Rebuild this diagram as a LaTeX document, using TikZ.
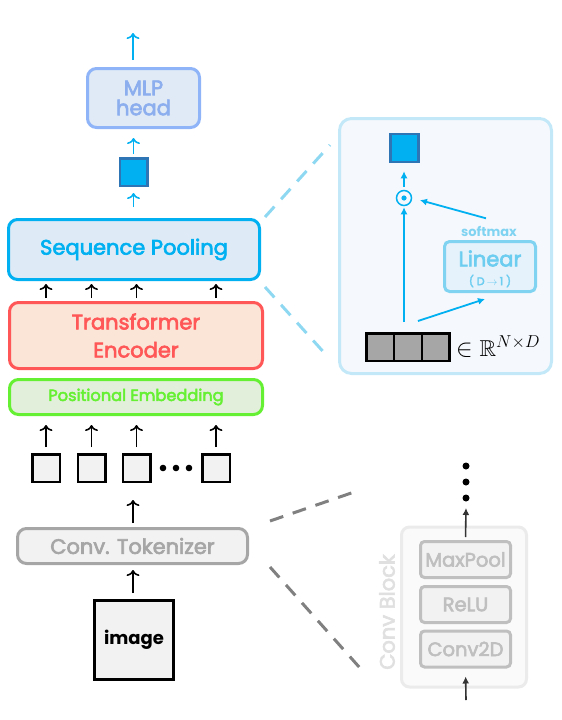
\documentclass[tikz,border=0pt]{standalone}
\usepackage{fontspec}
\usepackage{amssymb}
\setmainfont{Poppins}
\newfontfamily\semibold{Poppins}[FakeBold=3]
\usetikzlibrary{arrows.meta}
\definecolor{seqblue}{HTML}{00B0F0}
\definecolor{darkblue}{HTML}{2E75B6}
\definecolor{mlpline}{HTML}{8FB4F7}
\definecolor{mlpfill}{HTML}{E0EAF6}
\definecolor{mlptext}{HTML}{8CAEEE}
\definecolor{poolfill}{HTML}{DEEBF7}
\definecolor{encred}{HTML}{FF5757}
\definecolor{encfill}{HTML}{FBE5D6}
\definecolor{posgreen}{HTML}{66F033}
\definecolor{posfill}{HTML}{E2EFDA}
\definecolor{tokgray}{HTML}{A6A6A6}
\definecolor{lightfill}{HTML}{F2F2F2}
\definecolor{panelline}{HTML}{C3E9F8}
\definecolor{panelfill}{HTML}{F5F8FD}
\definecolor{linline}{HTML}{80D4F2}
\definecolor{linfill}{HTML}{E5F1FB}
\definecolor{lintext}{HTML}{6CCDF0}
\definecolor{zoomcyan}{HTML}{8FD8F2}
\definecolor{zoomgray}{HTML}{808080}
\definecolor{blockline}{HTML}{EBEBEB}
\definecolor{blockfill}{HTML}{FAFAFA}
\definecolor{layerline}{HTML}{BFBFBF}

\begin{document}
\begin{tikzpicture}[x=1pt,y=-1pt,
  box/.style={draw, rounded corners=9pt, line width=3pt, align=center, inner sep=0pt},
  token/.style={draw=black, fill=lightfill, line width=2.5pt, minimum size=27.5pt, inner sep=0pt},
  cell/.style={draw=black, fill=tokgray, line width=2.5pt, minimum width=27.8pt, minimum height=27.5pt, inner sep=0pt},
  layer/.style={box, rounded corners=4pt, draw=layerline, fill=lightfill, text=layerline, minimum width=90pt, minimum height=36pt, font=\semibold\fontsize{19.5}{20}\selectfont},
  arr/.style={-{To[length=6pt,width=13pt]}, line width=1.6pt},
  tip/.style={-{Latex[length=7pt,width=7pt]}, line width=1.8pt, seqblue},
  zoomline/.style={line width=3pt, dash pattern=on 14pt off 10pt}]
\useasboundingbox (0,0) rectangle (562,720);
% Main stack
\node[box, draw=mlpline, fill=mlpfill, text=mlptext, minimum width=112pt, minimum height=59pt, font=\semibold\fontsize{21}{20}\selectfont] (mlp) at (143.5,98) {MLP\\head};
\node[draw=darkblue, fill=seqblue, line width=2.5pt, minimum size=27.5pt, inner sep=0pt] (feat) at (133.5,172) {};
\node[box, draw=seqblue, fill=poolfill, text=seqblue, minimum width=251pt, minimum height=60pt, font=\semibold\fontsize{21}{20}\selectfont] (pool) at (134,249.5) {Sequence Pooling};
\node[box, draw=encred, fill=encfill, text=encred, minimum width=253pt, minimum height=66pt, font=\semibold\fontsize{21}{28}\selectfont] (enc) at (136,335.5) {Transformer\\Encoder};
\node[box, draw=posgreen, fill=posfill, text=posgreen, minimum width=253pt, minimum height=35pt, font=\semibold\fontsize{16.2}{16}\selectfont] (pos) at (136,397) {Positional Embedding};
% Tokens
\node[token] (tok1) at (46,468) {};
\node[token] (tok2) at (91.5,468) {};
\node[token] (tok3) at (136.5,468) {};
\node[token] (tok4) at (216,468) {};
\foreach \x in {163,176,189}
  \fill (\x,468) circle (3.3pt);
\node[box, draw=tokgray, fill=lightfill, text=tokgray, minimum width=230pt, minimum height=35pt, font=\semibold\fontsize{21}{20}\selectfont] (tokenizer) at (132.5,546) {Conv. Tokenizer};
\node[draw=black, fill=lightfill, line width=3pt, minimum size=79pt, inner sep=0pt, font=\bfseries\fontsize{18}{20}\selectfont] (img) at (134,640) {image};
% Arrows
\coordinate (top) at (133,33);
\draw[arr, seqblue, shorten <=7pt] (top |- mlp.north) -- (top);
\draw[arr, seqblue, shorten <=3pt, shorten >=9pt] (feat.north) -- (feat.north |- mlp.south);
\draw[arr, seqblue, shorten <=11pt, shorten >=6pt] (feat.south |- pool.north) -- (feat.south);
\foreach \i in {1,2,3,4} {
  \draw[arr, shorten <=3pt, shorten >=3pt] (tok\i |- enc.north) -- (tok\i |- pool.south);
  \draw[arr, shorten <=6pt, shorten >=9pt] (tok\i.north) -- (tok\i.north |- pos.south);
}
\draw[arr, shorten <=4pt, shorten >=17pt] (top |- tokenizer.north) -- (top |- tok3.south);
\draw[arr, shorten <=6pt, shorten >=5pt] (top |- img.north) -- (top |- tokenizer.south);
% Sequence pooling detail
\node[box, rounded corners=12pt, draw=panelline, fill=panelfill, minimum width=212pt, minimum height=255pt] (panel) at (445.5,246) {};
\node[draw=darkblue, fill=seqblue, line width=2.5pt, minimum size=28pt, inner sep=0pt] (out) at (404.5,148) {};
\node[circle, draw=seqblue, line width=1.5pt, minimum size=15pt, inner sep=0pt] (dot) at (404,198) {};
\fill[seqblue] (dot) circle (2.6pt);
\node[box, rounded corners=5pt, draw=linline, fill=linfill, minimum width=91pt, minimum height=50pt] (lin) at (490,266.5) {};
\node[text=lintext, font=\semibold\fontsize{21}{20}\selectfont, inner sep=0pt] (lintitle) at (490,258.5) {Linear};
\node[text=lintext, font=\semibold\fontsize{11}{11}\selectfont, inner sep=0pt] (linsub) at (490,281) {(\hspace{3pt}D\hspace{2pt}$\rightarrow$\hspace{2pt}1\hspace{3pt})};
\node[text=linline, font=\bfseries\fontsize{13}{12}\selectfont] (soft) at (489,231) {softmax};
\node[cell] (m1) at (380.15,347) {};
\node[cell] (m2) at (407.95,347) {};
\node[cell] (m3) at (435.75,347) {};
\node[anchor=west, font=\fontsize{23}{23}\selectfont, inner sep=0pt] (space) at ([xshift=5pt]m3.east) {$\in\mathbb{R}^{N\times D}$};
\draw[tip, shorten <=10pt, shorten >=1pt] (dot |- m2.north) -- (dot.south);
\draw[tip, shorten <=3pt, shorten >=8pt] (dot.north) -- (dot |- out.south);
\draw[tip, shorten >=8pt] ([shift={(-3,-4)}]soft.north) -- (dot.east);
\draw[tip] ([shift={(10,-11)}]m2.north) -- ([shift={(-5,6)}]lin.south);
\coordinate (pu) at (330,145);
\coordinate (pl) at (328,357);
\draw[zoomline, zoomcyan] ([shift={(4,-1)}]pool.north east) -- (pu);
\draw[zoomline, zoomcyan] ([shift={(4,6)}]pool.south east) -- (pl);
% Conv block detail
\coordinate (gu) at (360,490);
\coordinate (gl) at (360,668);
\draw[zoomline, zoomgray] ([shift={(21,-6)}]tokenizer.north east) -- (gu);
\draw[zoomline, zoomgray] ([shift={(21,2)}]tokenizer.south east) -- (gl);
\node[box, rounded corners=8pt, draw=blockline, fill=blockfill, minimum width=125pt, minimum height=160pt] (block) at (464,607) {};
\node[rotate=90, text=blockline!90!gray, font=\semibold\fontsize{21}{20}\selectfont] (blocklabel) at (387,612) {Conv Block};
\node[layer] (maxpool) at (465.5,559.5) {MaxPool};
\node[layer] (relu) at (465.5,604.5) {ReLU};
\node[layer] (conv) at (465.5,649) {Conv2D};
\coordinate (inp) at (466,700);
\coordinate (more) at (466,508);
\draw[tip, black!80, line width=1.6pt, shorten >=8pt] (inp) -- (conv.south);
\draw[tip, black!80, line width=1.6pt, shorten <=3pt] (maxpool.north) -- (more);
\foreach \y in {466,482,498}
  \fill (466,\y) circle (3.5pt);
\end{tikzpicture}
\end{document}
